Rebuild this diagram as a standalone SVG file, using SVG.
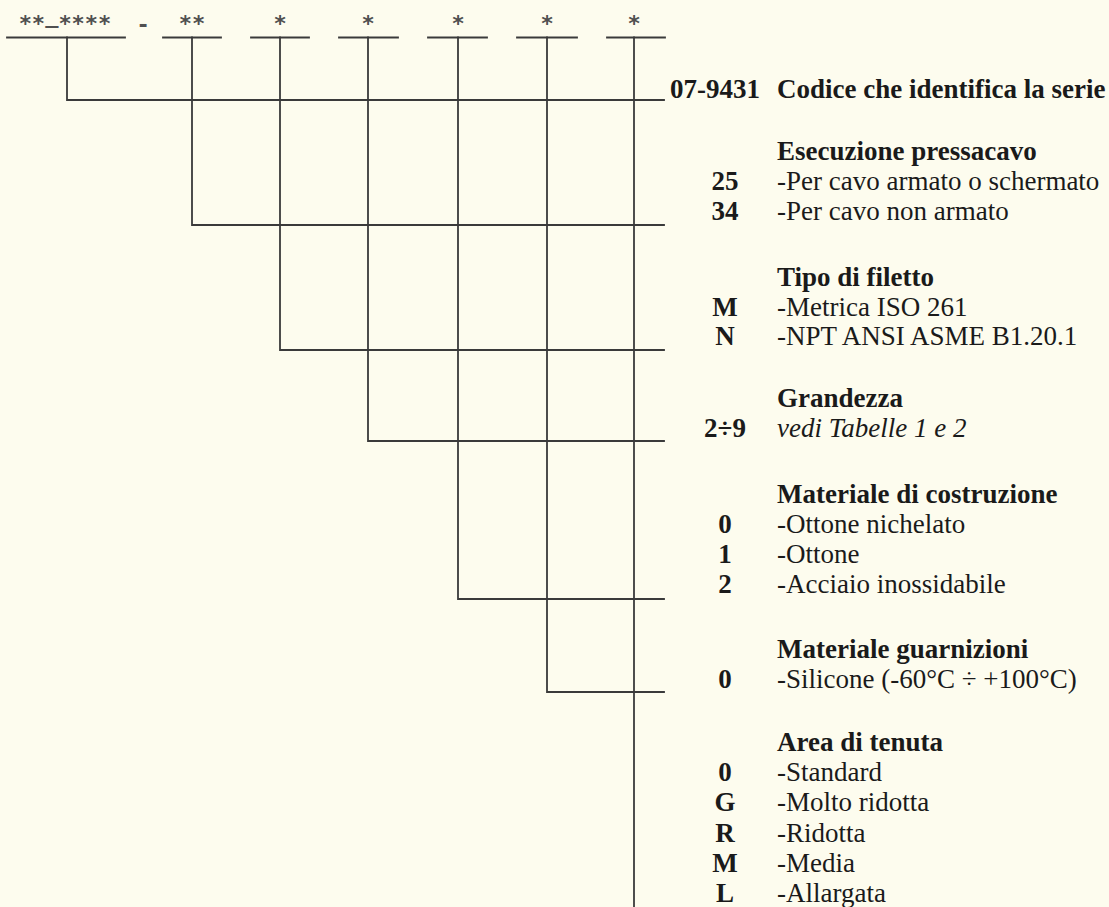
<svg xmlns="http://www.w3.org/2000/svg" width="1109" height="907" viewBox="0 0 1109 907">
<style>
.bg{fill:#FDFCEE}
.ln{stroke:#3a3a3a;stroke-width:1.8;fill:none;stroke-linecap:square}
.star{font-family:"DejaVu Sans Mono",monospace;font-weight:bold;font-size:22px;fill:#505050;text-anchor:middle}
.hd{font-family:"Liberation Serif",serif;font-weight:bold;font-size:27px;fill:#1a1a1a}
.cd{font-family:"Liberation Serif",serif;font-weight:bold;font-size:27px;fill:#1a1a1a;text-anchor:middle}
.tx{font-family:"Liberation Serif",serif;font-size:27px;fill:#1a1a1a}
.it{font-style:italic}
</style>
<rect class="bg" x="0" y="0" width="1109" height="907"/>
<g id="code-top">
  <g id="seg-serie"><text class="star" x="65" y="31">**<tspan dy="-8">_</tspan><tspan dy="8">****</tspan></text><line class="ln" x1="7" y1="37.5" x2="125" y2="37.5"/></g>
  <g id="seg-dash"><text class="star" x="143" y="32">-</text></g>
  <g id="seg-esecuzione"><text class="star" x="192" y="31">**</text><line class="ln" x1="163" y1="37.5" x2="221" y2="37.5"/></g>
  <g id="seg-filetto"><text class="star" x="280" y="31">*</text><line class="ln" x1="251" y1="37.5" x2="309" y2="37.5"/></g>
  <g id="seg-grandezza"><text class="star" x="368" y="31">*</text><line class="ln" x1="339" y1="37.5" x2="398" y2="37.5"/></g>
  <g id="seg-materiale"><text class="star" x="458" y="31">*</text><line class="ln" x1="428" y1="37.5" x2="487" y2="37.5"/></g>
  <g id="seg-guarnizioni"><text class="star" x="547" y="31">*</text><line class="ln" x1="517" y1="37.5" x2="577" y2="37.5"/></g>
  <g id="seg-tenuta"><text class="star" x="634" y="31">*</text><line class="ln" x1="607" y1="37.5" x2="665" y2="37.5"/></g>
</g>
<g id="connectors">
  <polyline class="ln" points="67,37.5 67,100 664,100"/>
  <polyline class="ln" points="192,37.5 192,225 664,225"/>
  <polyline class="ln" points="280,37.5 280,350 664,350"/>
  <polyline class="ln" points="368,37.5 368,441 664,441"/>
  <polyline class="ln" points="458,37.5 458,599 664,599"/>
  <polyline class="ln" points="547,37.5 547,692 664,692"/>
  <line class="ln" x1="634" y1="37.5" x2="634" y2="907"/>
</g>
<g id="legend-serie">
  <text class="hd" x="670" y="98">07-9431</text>
  <text class="hd" x="777" y="98">Codice che identifica la serie</text>
</g>
<g id="legend-esecuzione">
  <text class="hd" x="777" y="160">Esecuzione pressacavo</text>
  <text class="cd" x="725" y="190">25</text><text class="tx" x="777" y="190">-Per cavo armato o schermato</text>
  <text class="cd" x="725" y="220">34</text><text class="tx" x="777" y="220">-Per cavo non armato</text>
</g>
<g id="legend-filetto">
  <text class="hd" x="777" y="286">Tipo di filetto</text>
  <text class="cd" x="725" y="316">M</text><text class="tx" x="777" y="316">-Metrica ISO 261</text>
  <text class="cd" x="725" y="345">N</text><text class="tx" x="777" y="345">-NPT ANSI ASME B1.20.1</text>
</g>
<g id="legend-grandezza">
  <text class="hd" x="777" y="407">Grandezza</text>
  <text class="cd" x="725" y="437">2÷9</text><text class="tx it" x="777" y="437">vedi Tabelle 1 e 2</text>
</g>
<g id="legend-materiale">
  <text class="hd" x="777" y="503">Materiale di costruzione</text>
  <text class="cd" x="725" y="533">0</text><text class="tx" x="777" y="533">-Ottone nichelato</text>
  <text class="cd" x="725" y="563">1</text><text class="tx" x="777" y="563">-Ottone</text>
  <text class="cd" x="725" y="593">2</text><text class="tx" x="777" y="593">-Acciaio inossidabile</text>
</g>
<g id="legend-guarnizioni">
  <text class="hd" x="777" y="658">Materiale guarnizioni</text>
  <text class="cd" x="725" y="688">0</text><text class="tx" x="777" y="688">-Silicone (-60°C ÷ +100°C)</text>
</g>
<g id="legend-tenuta">
  <text class="hd" x="777" y="751">Area di tenuta</text>
  <text class="cd" x="725" y="781">0</text><text class="tx" x="777" y="781">-Standard</text>
  <text class="cd" x="725" y="811">G</text><text class="tx" x="777" y="811">-Molto ridotta</text>
  <text class="cd" x="725" y="842">R</text><text class="tx" x="777" y="842">-Ridotta</text>
  <text class="cd" x="725" y="872">M</text><text class="tx" x="777" y="872">-Media</text>
  <text class="cd" x="725" y="902">L</text><text class="tx" x="777" y="902">-Allargata</text>
</g>
</svg>
